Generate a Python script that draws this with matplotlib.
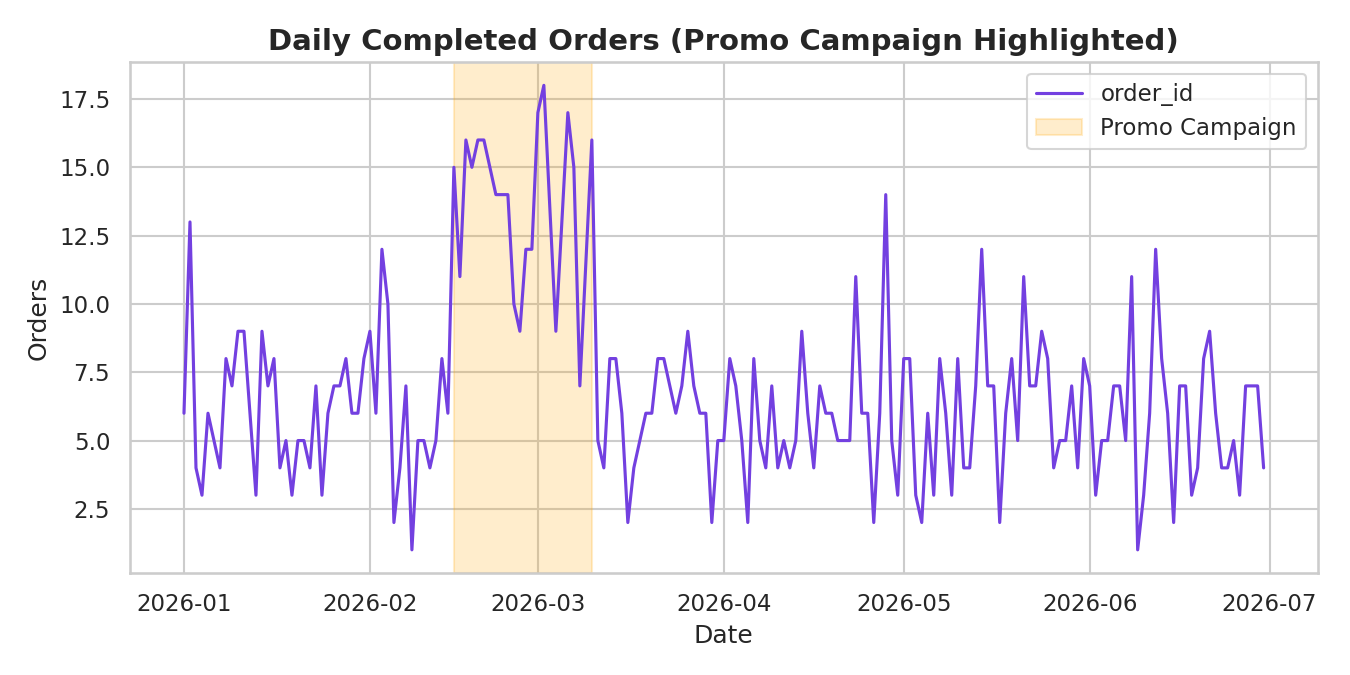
import numpy as np
import pandas as pd
import matplotlib
matplotlib.use("Agg")
import matplotlib.pyplot as plt
import seaborn as sns

# daily completed orders, one list per month (None = no row for that day)
jan = [6, 13, 4, 3, 6, 5, 4, 8, 7, 9, 9, 6, 3, 9, 7, 8, 4, 5, 3, 5, 5, 4, 7, 3, 6, 7, 7, 8, 6, 6, 8]
feb = [9, 6, 12, 10, 2, 4, 7, 1, 5, 5, 4, 5, 8, 6, 15, 11, 16, 15, 16, 16, 15, 14, 14, 14, 10, 9, 12, 12]
mar = [17, 18, None, 9, 13, 17, 15, 7, None, 16, 5, 4, 8, 8, 6, 2, 4, 5, 6, 6, 8, 8, 7, 6, 7, 9, 7, 6, 6, 2, 5]
apr = [5, 8, 7, 5, 2, 8, 5, 4, 7, 4, 5, 4, 5, 9, 6, 4, 7, 6, 6, 5, 5, 5, 11, 6, 6, 2, 6, 14, 5, 3]
may = [8, 8, 3, 2, 6, 3, 8, 6, 3, 8, 4, 4, 7, 12, 7, 7, 2, 6, 8, 5, 11, 7, 7, 9, 8, 4, 5, 5, 7, 4, 8]
jun = [7, 3, 5, 5, 7, 7, 5, 11, 1, 3, 6, 12, 8, 6, 2, 7, 7, 3, 4, 8, 9, 6, 4, 4, 5, 3, 7, 7, 7, 4]

promo_start = "2026-02-15"
promo_end = "2026-03-10"

dates = pd.date_range("2026-01-01", "2026-06-30", freq="D")
orders = pd.Series(jan + feb + mar + apr + may + jun, index=dates, name="order_id", dtype="float")
orders = orders.dropna()

sns.set_theme(style="whitegrid")

fig, ax = plt.subplots(figsize=(9, 4.5), dpi=150)
fig.subplots_adjust(left=0.0963, right=0.976, top=0.908, bottom=0.151)

ax.plot(orders.index, orders.values, color="#7340e0", linewidth=1.5, label="order_id")
ax.axvspan(pd.Timestamp(promo_start), pd.Timestamp(promo_end), color="orange", alpha=0.2,
           label="Promo Campaign")

ax.set_title("Daily Completed Orders (Promo Campaign Highlighted)", fontsize=14, fontweight="bold")
ax.set_xlabel("Date")
ax.set_ylabel("Orders")
ax.legend(loc="upper right")

fig.savefig("out.png", dpi=150)
